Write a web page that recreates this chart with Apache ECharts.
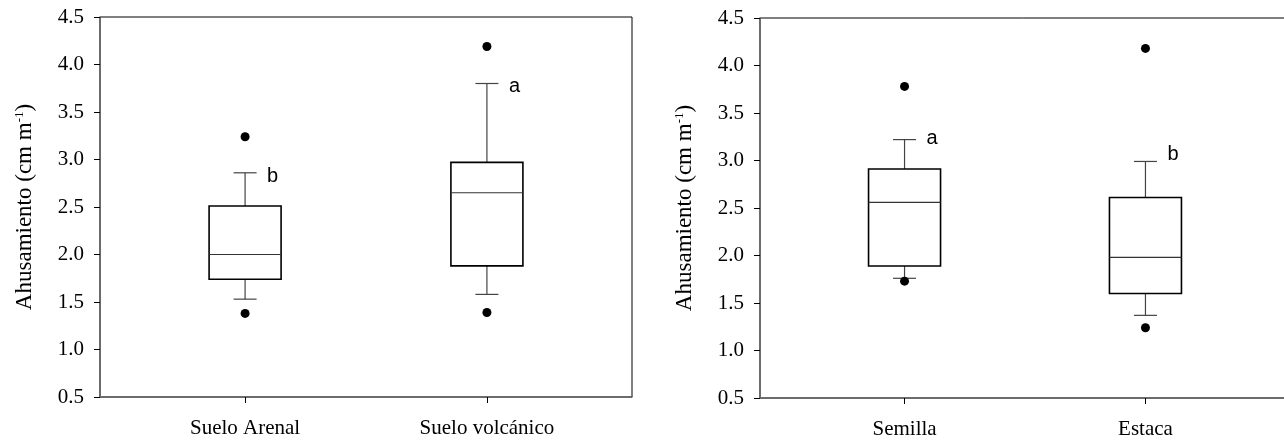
<!DOCTYPE html>
<html>
<head>
<meta charset="utf-8">
<script src="https://cdn.jsdelivr.net/npm/echarts@6/dist/echarts.min.js"></script>
<style>
html,body{margin:0;padding:0;background:#fff;}
#chart{width:1284px;height:440px;}
</style>
</head>
<body>
<div id="chart"></div>
<script>
// ---- Data ----
const yTickValues = [0.5, 1.0, 1.5, 2.0, 2.5, 3.0, 3.5, 4.0, 4.5];

const categoriesA   = ['Suelo Arenal', 'Suelo volcánico'];
const whiskerLowA   = [1.53, 1.58];
const q1A           = [1.74, 1.88];
const medianA       = [2.00, 2.65];
const q3A           = [2.51, 2.97];
const whiskerHighA  = [2.86, 3.80];
const outliersA     = [[3.24, 1.38], [4.19, 1.39]];
const lettersA      = ['b', 'a'];
const letterValueA  = [2.82, 3.77];

const categoriesB   = ['Semilla', 'Estaca'];
const whiskerLowB   = [1.76, 1.37];
const q1B           = [1.89, 1.60];
const medianB       = [2.56, 1.98];
const q3B           = [2.91, 2.61];
const whiskerHighB  = [3.22, 2.99];
const outliersB     = [[3.78, 1.73], [4.18, 1.24]];
const lettersB      = ['a', 'b'];
const letterValueB  = [3.23, 3.06];

// ---- Build series data ----
function boxData(cats, lo, q1, md, q3, hi) {
  return cats.map((c, i) => [i + 1, lo[i], q1[i], md[i], q3[i], hi[i]]);
}
function outlierData(outs) {
  const d = [];
  outs.forEach((arr, i) => arr.forEach(v => d.push([i + 1, v])));
  return d;
}
function letterData(letters, vals) {
  return letters.map((l, i) => [i + 1, vals[i], l]);
}

const SERIF = "'Liberation Serif', 'Times New Roman', serif";
const SANS = "'Liberation Sans', Arial, sans-serif";

function renderBox(params, api) {
  const x = api.value(0);
  const lo = api.coord([x, api.value(1)]);
  const q1 = api.coord([x, api.value(2)]);
  const md = api.coord([x, api.value(3)]);
  const q3 = api.coord([x, api.value(4)]);
  const hi = api.coord([x, api.value(5)]);
  const hw = 36, cw = 11.5;
  const wStyle = { stroke: '#444', lineWidth: 1.2 };
  return {
    type: 'group',
    children: [
      { type: 'line', shape: { x1: hi[0], y1: hi[1], x2: q3[0], y2: q3[1] }, style: wStyle },
      { type: 'line', shape: { x1: lo[0], y1: lo[1], x2: q1[0], y2: q1[1] }, style: wStyle },
      { type: 'line', shape: { x1: hi[0] - cw, y1: hi[1], x2: hi[0] + cw, y2: hi[1] }, style: wStyle },
      { type: 'line', shape: { x1: lo[0] - cw, y1: lo[1], x2: lo[0] + cw, y2: lo[1] }, style: wStyle },
      { type: 'rect', shape: { x: q3[0] - hw, y: q3[1], width: hw * 2, height: q1[1] - q3[1] },
        style: { fill: '#fff', stroke: '#000', lineWidth: 1.6 } },
      { type: 'line', shape: { x1: md[0] - hw, y1: md[1], x2: md[0] + hw, y2: md[1] },
        style: { stroke: '#333', lineWidth: 1.2 } }
    ]
  };
}

function renderLetter(params, api) {
  const p = api.coord([api.value(0), api.value(1)]);
  return {
    type: 'text',
    x: p[0] + 22,
    y: p[1],
    style: {
      text: String(api.value(2)),
      fontFamily: SANS,
      fontSize: 20,
      fill: '#000',
      align: 'left',
      verticalAlign: 'middle'
    }
  };
}

function makeXAxis(idx, cats) {
  return {
    type: 'value', gridIndex: idx, min: 0.4, max: 2.6,
    splitLine: { show: false },
    axisLine: { show: true, lineStyle: { color: '#666', width: 1.5 } },
    axisTick: { show: true, customValues: [1, 2], length: 6, lineStyle: { color: '#000', width: 1 } },
    axisLabel: {
      show: true, customValues: [1, 2], margin: 21,
      formatter: v => cats[Math.round(v) - 1] || '',
      fontFamily: SERIF, fontSize: 21, color: '#000'
    }
  };
}

function makeYAxis(idx) {
  return {
    type: 'value', gridIndex: idx, min: 0.5, max: 4.5, interval: 0.5,
    splitLine: { show: false },
    axisLine: { show: true, lineStyle: { color: '#666', width: 1.5 } },
    axisTick: { show: true, length: 6, lineStyle: { color: '#000', width: 1 } },
    axisLabel: {
      margin: 16, fontFamily: SERIF, fontSize: 21, color: '#000',
      formatter: v => Number(v).toFixed(1)
    },
    name: 'Ahusamiento (cm m{sup|-1})',
    nameLocation: 'middle',
    nameGap: 64,
    nameRotate: 90,
    nameTextStyle: {
      fontFamily: SERIF, fontSize: 23, color: '#000',
      rich: { sup: { fontFamily: SERIF, fontSize: 13, verticalAlign: 'top', color: '#000' } }
    }
  };
}

const chart = echarts.init(document.getElementById('chart'), null, { renderer: 'canvas' });
chart.setOption({
  animation: false,
  backgroundColor: '#fff',
  grid: [
    { left: 100, top: 17, width: 532, height: 380, show: true, borderColor: '#000', borderWidth: 1,
      backgroundColor: 'transparent', containLabel: false, outerBoundsMode: 'none' },
    { left: 760, top: 18, width: 530, height: 380, show: true, borderColor: '#000', borderWidth: 1,
      backgroundColor: 'transparent', containLabel: false, outerBoundsMode: 'none' }
  ],
  xAxis: [makeXAxis(0, categoriesA), makeXAxis(1, categoriesB)],
  yAxis: [makeYAxis(0), makeYAxis(1)],
  series: [
    { type: 'custom', xAxisIndex: 0, yAxisIndex: 0, renderItem: renderBox,
      data: boxData(categoriesA, whiskerLowA, q1A, medianA, q3A, whiskerHighA), z: 2 },
    { type: 'scatter', xAxisIndex: 0, yAxisIndex: 0, symbolSize: 9,
      itemStyle: { color: '#000', opacity: 1 }, data: outlierData(outliersA), z: 3 },
    { type: 'custom', xAxisIndex: 0, yAxisIndex: 0, renderItem: renderLetter,
      data: letterData(lettersA, letterValueA), z: 3 },
    { type: 'custom', xAxisIndex: 1, yAxisIndex: 1, renderItem: renderBox,
      data: boxData(categoriesB, whiskerLowB, q1B, medianB, q3B, whiskerHighB), z: 2 },
    { type: 'scatter', xAxisIndex: 1, yAxisIndex: 1, symbolSize: 9,
      itemStyle: { color: '#000', opacity: 1 }, data: outlierData(outliersB), z: 3 },
    { type: 'custom', xAxisIndex: 1, yAxisIndex: 1, renderItem: renderLetter,
      data: letterData(lettersB, letterValueB), z: 3 }
  ]
});
</script>
</body>
</html>
